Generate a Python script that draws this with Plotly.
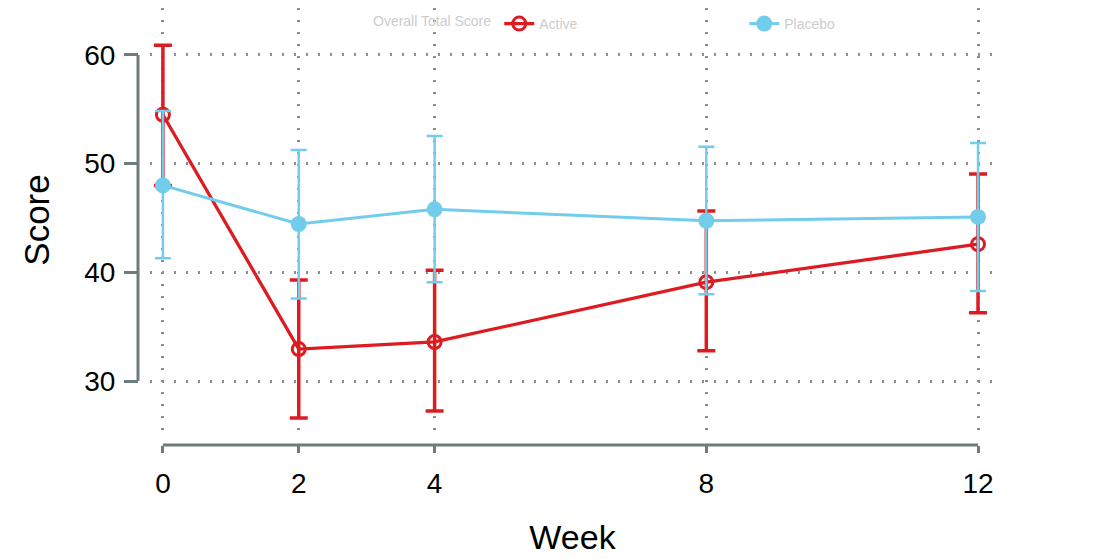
import plotly.graph_objects as go

weeks = [0, 2, 4, 8, 12]
week_labels = ["0", "2", "4", "8", "12"]

active_mean = [54.5, 32.95, 33.6, 39.1, 42.6]
active_upper = [60.9, 39.3, 40.2, 45.65, 49.05]
active_lower = [48.0, 26.6, 27.25, 32.8, 36.3]

placebo_mean = [48.0, 44.45, 45.8, 44.75, 45.1]
placebo_upper = [54.85, 51.25, 52.55, 51.55, 51.9]
placebo_lower = [41.3, 37.6, 39.1, 38.0, 38.3]

y_ticks = [30, 40, 50, 60]

RED = "#dd1c22"
CYAN = "#72cdec"
AXIS = "#6f7c7c"
GRID = "#8a8f8f"
FONT = "Liberation Sans, Arial, sans-serif"

fig = go.Figure()

fig.add_trace(go.Scatter(
    x=weeks, y=active_mean, name="Active", mode="lines+markers",
    line=dict(color=RED, width=3.3),
    marker=dict(symbol="circle-open", size=13, color=RED, line=dict(width=3, color=RED)),
    error_y=dict(type="data", symmetric=False,
                 array=[u - m for u, m in zip(active_upper, active_mean)],
                 arrayminus=[m - l for m, l in zip(active_mean, active_lower)],
                 color=RED, thickness=3.5, width=9),
))
fig.add_trace(go.Scatter(
    x=weeks, y=placebo_mean, name="Placebo", mode="lines+markers",
    line=dict(color=CYAN, width=3),
    marker=dict(symbol="circle", size=16, color=CYAN),
    error_y=dict(type="data", symmetric=False,
                 array=[u - m for u, m in zip(placebo_upper, placebo_mean)],
                 arrayminus=[m - l for m, l in zip(placebo_mean, placebo_lower)],
                 color=CYAN, thickness=2.5, width=8),
))

# page body has an 8px margin: figure is drawn at (8, 8)
W, H = 1110, 551
x_dom = [142 / W, 987 / W]
y_dom = [(H - 424) / H, 1.0]
yaxis_pos = 130 / W
xaxis_pos = (H - 437) / H

fig.update_layout(
    width=W, height=H,
    margin=dict(l=0, r=0, t=0, b=0),
    paper_bgcolor="white", plot_bgcolor="white",
    font=dict(family=FONT, color="black"),
    showlegend=True,
    legend=dict(orientation="h", x=363 / W, y=1.0, xanchor="left", yanchor="top",
                font=dict(size=14, color="#cccccc"),
                title=dict(text="Overall Total Score", side="left", font=dict(size=14, color="#cccccc")),
                bgcolor="rgba(0,0,0,0)", entrywidth=200),
    xaxis=dict(
        domain=x_dom, range=[-0.19, 12.25], anchor="free", position=xaxis_pos,
        tickvals=weeks, ticktext=week_labels, ticks="outside", ticklen=7, tickwidth=3,
        tickcolor=AXIS, showline=False, zeroline=False,
        showgrid=True, gridcolor=GRID, gridwidth=2.5, griddash="2px,10px",
        tickfont=dict(size=28, family=FONT, color="black"),
        ticklabelstandoff=6,
        title=dict(text="Week", font=dict(size=34, family=FONT, color="black"), standoff=27),
    ),
    yaxis=dict(
        domain=y_dom, range=[25.32, 64.32], anchor="free", position=yaxis_pos,
        tickvals=y_ticks, ticks="outside", ticklen=14, tickwidth=3,
        tickcolor=AXIS, showline=False, zeroline=False,
        showgrid=True, gridcolor=GRID, gridwidth=2.5, griddash="2px,10px",
        tickfont=dict(size=28, family=FONT, color="black"),
        ticklabelstandoff=3,
        title=dict(text="Score", font=dict(size=35, family=FONT, color="black"), standoff=22),
    ),
    shapes=[
        dict(type="line", xref="paper", yref="y", x0=yaxis_pos, x1=yaxis_pos,
             y0=min(y_ticks), y1=max(y_ticks), line=dict(color=AXIS, width=3), layer="below"),
        dict(type="line", xref="x", yref="paper", x0=min(weeks), x1=max(weeks),
             y0=xaxis_pos, y1=xaxis_pos, line=dict(color=AXIS, width=3), layer="below"),
    ],
)

fig.write_html("out.html")
